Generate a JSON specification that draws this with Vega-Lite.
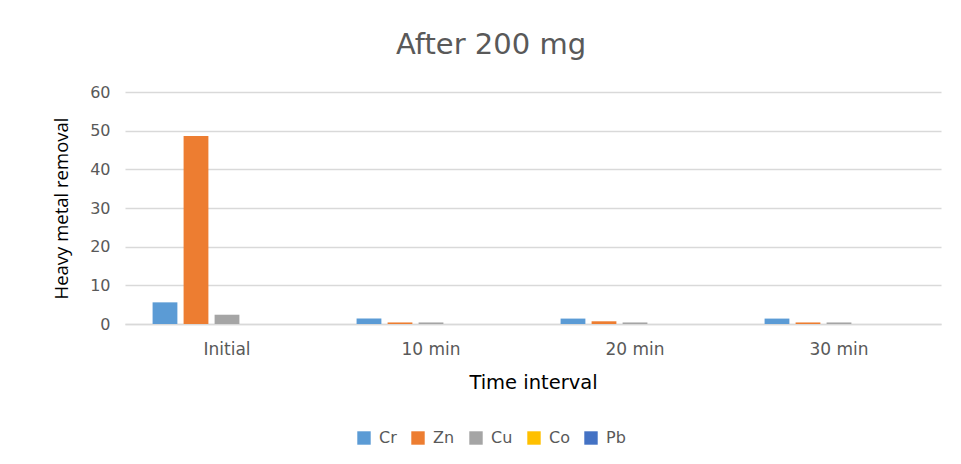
{
  "$schema": "https://vega.github.io/schema/vega-lite/v6.json",
  "autosize": "none",
  "width": 816,
  "height": 232,
  "padding": {"left": 125, "top": 92, "right": 20, "bottom": 140},
  "background": "white",
  "config": {
    "font": "DejaVu Sans",
    "view": {"stroke": null}
  },
  "title": {
    "text": "After 200 mg",
    "fontSize": 29,
    "fontWeight": "normal",
    "color": "#595959",
    "anchor": "middle",
    "dx": -42,
    "offset": 24
  },
  "data": {
    "values": [
      {"time": "Initial", "metal": "Cr", "value": 5.6},
      {"time": "Initial", "metal": "Zn", "value": 48.6},
      {"time": "Initial", "metal": "Cu", "value": 2.4},
      {"time": "Initial", "metal": "Co", "value": 0},
      {"time": "Initial", "metal": "Pb", "value": 0},
      {"time": "10 min", "metal": "Cr", "value": 1.4},
      {"time": "10 min", "metal": "Zn", "value": 0.4},
      {"time": "10 min", "metal": "Cu", "value": 0.4},
      {"time": "10 min", "metal": "Co", "value": 0},
      {"time": "10 min", "metal": "Pb", "value": 0},
      {"time": "20 min", "metal": "Cr", "value": 1.4},
      {"time": "20 min", "metal": "Zn", "value": 0.7},
      {"time": "20 min", "metal": "Cu", "value": 0.4},
      {"time": "20 min", "metal": "Co", "value": 0},
      {"time": "20 min", "metal": "Pb", "value": 0},
      {"time": "30 min", "metal": "Cr", "value": 1.4},
      {"time": "30 min", "metal": "Zn", "value": 0.4},
      {"time": "30 min", "metal": "Cu", "value": 0.4},
      {"time": "30 min", "metal": "Co", "value": 0},
      {"time": "30 min", "metal": "Pb", "value": 0}
    ]
  },
  "mark": {"type": "bar"},
  "encoding": {
    "x": {
      "field": "time",
      "type": "nominal",
      "sort": ["Initial", "10 min", "20 min", "30 min"],
      "scale": {"paddingInner": 0.24, "paddingOuter": 0.12},
      "axis": {
        "title": "Time interval",
        "titleFontSize": 19.5,
        "titleFontWeight": "normal",
        "titleColor": "#000000",
        "titlePadding": 16,
        "labelAngle": 0,
        "labelFontSize": 17,
        "labelColor": "#595959",
        "labelPadding": 17,
        "ticks": false,
        "domainColor": "#d9d9d9",
        "domainWidth": 1.5
      }
    },
    "xOffset": {
      "field": "metal",
      "type": "nominal",
      "sort": ["Cr", "Zn", "Cu", "Co", "Pb"],
      "scale": {"paddingInner": 0.2, "paddingOuter": 0.1}
    },
    "y": {
      "field": "value",
      "type": "quantitative",
      "scale": {"domain": [0, 60]},
      "axis": {
        "title": "Heavy metal removal",
        "titleFont": "Open Sans",
        "titleFontSize": 18.5,
        "titleFontWeight": "normal",
        "titleColor": "#000000",
        "titlePadding": 18,
        "values": [0, 10, 20, 30, 40, 50, 60],
        "labelFontSize": 16,
        "labelColor": "#595959",
        "labelPadding": 15,
        "ticks": false,
        "domain": false,
        "gridColor": "#d9d9d9",
        "gridWidth": 1.5
      }
    },
    "color": {
      "field": "metal",
      "type": "nominal",
      "sort": ["Cr", "Zn", "Cu", "Co", "Pb"],
      "scale": {
        "domain": ["Cr", "Zn", "Cu", "Co", "Pb"],
        "range": ["#5B9BD5", "#ED7D31", "#A5A5A5", "#FFC000", "#4472C4"]
      },
      "legend": {
        "title": null,
        "orient": "none",
        "direction": "horizontal",
        "legendX": 231,
        "legendY": 338,
        "symbolType": "square",
        "symbolSize": 180,
        "symbolStrokeWidth": 0,
        "labelFontSize": 16,
        "labelColor": "#595959",
        "columnPadding": 13,
        "labelOffset": 7
      }
    }
  }
}
